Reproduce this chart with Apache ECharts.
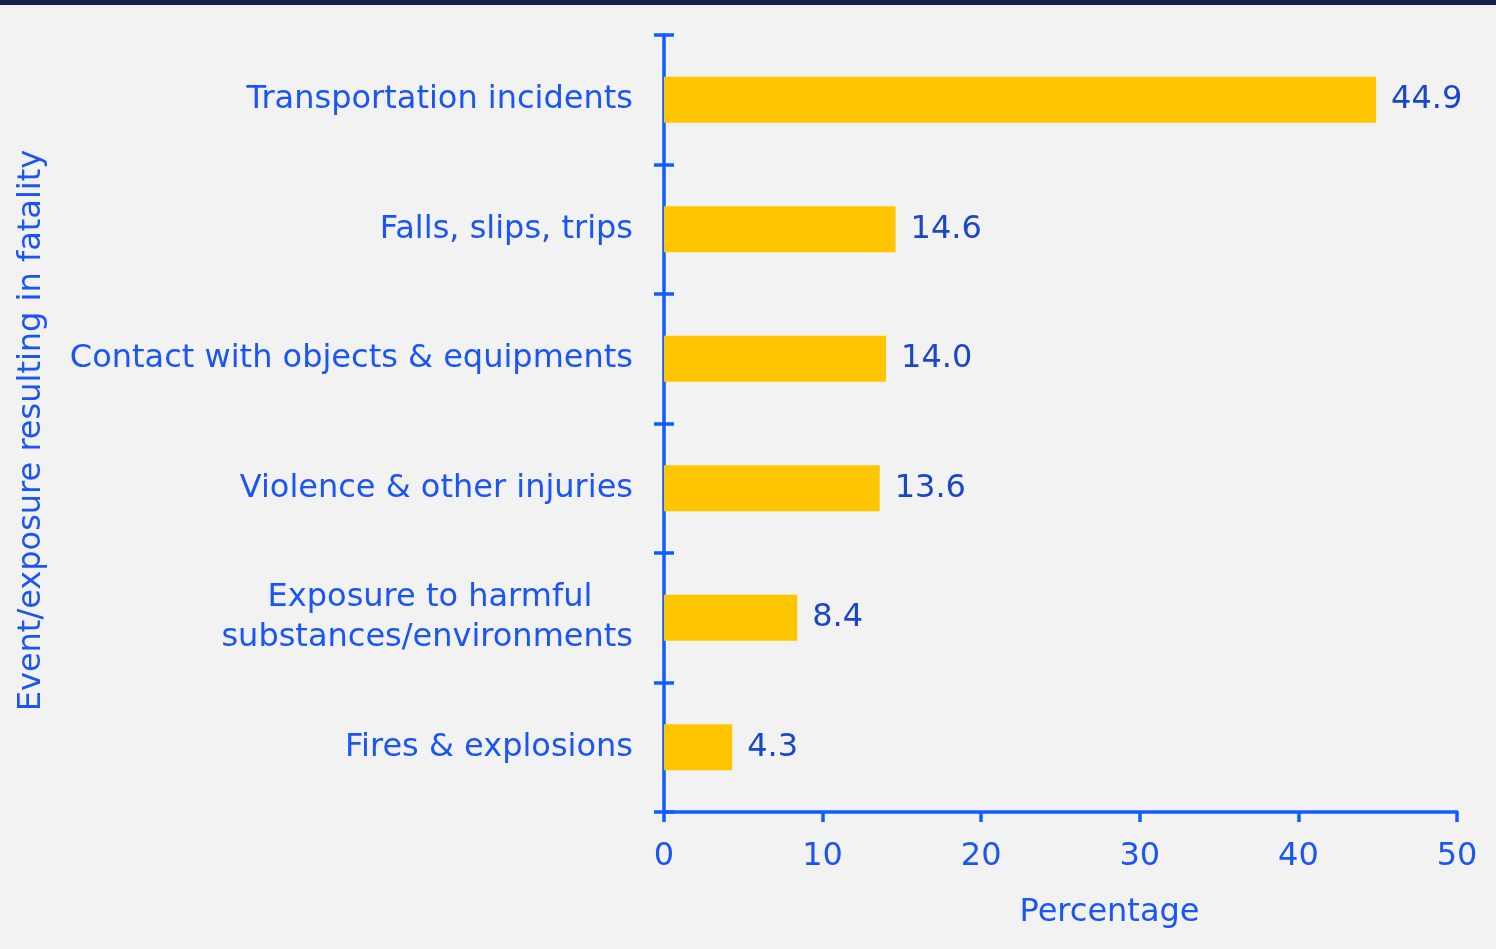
<!DOCTYPE html>
<html><head><meta charset="utf-8">
<script src="https://cdn.jsdelivr.net/npm/echarts@6/dist/echarts.min.js"></script>
<style>html,body{margin:0;padding:0;background:#f2f2f2;}#c{width:1496px;height:949px;}</style>
</head><body><div id="c"></div>
<script>
const categories = ["Transportation incidents", "Falls, slips, trips", "Contact with objects & equipments", "Violence & other injuries", "Exposure to harmful\nsubstances/environments", "Fires & explosions"];
const values = [44.9, 14.6, 14.0, 13.6, 8.4, 4.3];
const xTicks = [0, 10, 20, 30, 40, 50];
const xAxisTitle = "Percentage";
const yAxisTitle = "Event/exposure resulting in fatality";

const font = "'DejaVu Sans', Verdana, sans-serif";
const fs = 32;
const blue = "#0f5cff";
const labelBlue = "#1a55f5";
const valueBlue = "#1a47c8";
const chart = echarts.init(document.getElementById('c'), null, {renderer: 'canvas'});
chart.setOption({
  backgroundColor: '#f2f2f2',
  animation: false,
  graphic: [{type: 'rect', left: 0, top: 0, shape: {width: 1496, height: 5}, style: {fill: '#16204f'}}],
  grid: {left: 664, right: 39, top: 35, bottom: 137},
  xAxis: {
    type: 'value', min: xTicks[0], max: xTicks[xTicks.length - 1], interval: 10,
    name: xAxisTitle, nameLocation: 'middle', nameGap: 85,
    nameTextStyle: {color: labelBlue, fontSize: fs, fontFamily: font, padding: [0, 0, 0, 98]},
    axisLine: {show: true, lineStyle: {color: blue, width: 3.5}},
    axisTick: {show: true, length: 10, lineStyle: {color: blue, width: 3.5}},
    axisLabel: {color: labelBlue, fontSize: fs, fontFamily: font, margin: 29},
    splitLine: {show: false}
  },
  yAxis: [{
    type: 'category', data: categories, inverse: true,
    name: yAxisTitle, nameLocation: 'middle', nameGap: 616, nameRotate: 90,
    nameTextStyle: {color: labelBlue, fontSize: fs, fontFamily: font, padding: [0, 14, 0, 0]},
    axisLine: {show: true, lineStyle: {color: blue, width: 3.5}},
    axisTick: {show: true, length: 10, lineStyle: {color: blue, width: 3.5}},
    axisLabel: {color: labelBlue, fontSize: fs, fontFamily: font, margin: 31, lineHeight: 40,
      padding: [4, 0, 0, 0],
      formatter: function (v) { return v.indexOf('\n') >= 0 ? v.replace('\n', '\u00a0\u00a0\u00a0\u00a0\n') : v; }}
  }, {
    type: 'category', data: categories, inverse: true, position: 'left',
    axisLine: {show: false},
    axisTick: {show: true, inside: true, length: 10, lineStyle: {color: blue, width: 3.5}},
    axisLabel: {show: false}
  }],
  series: [{
    type: 'bar', data: values, yAxisIndex: 0, barWidth: 46,
    itemStyle: {color: '#ffc600'},
    label: {show: true, position: 'right', distance: 15, color: valueBlue, fontSize: fs, fontFamily: font,
      padding: [4, 0, 0, 0],
      formatter: p => p.value.toFixed(1)}
  }]
});
</script></body></html>
